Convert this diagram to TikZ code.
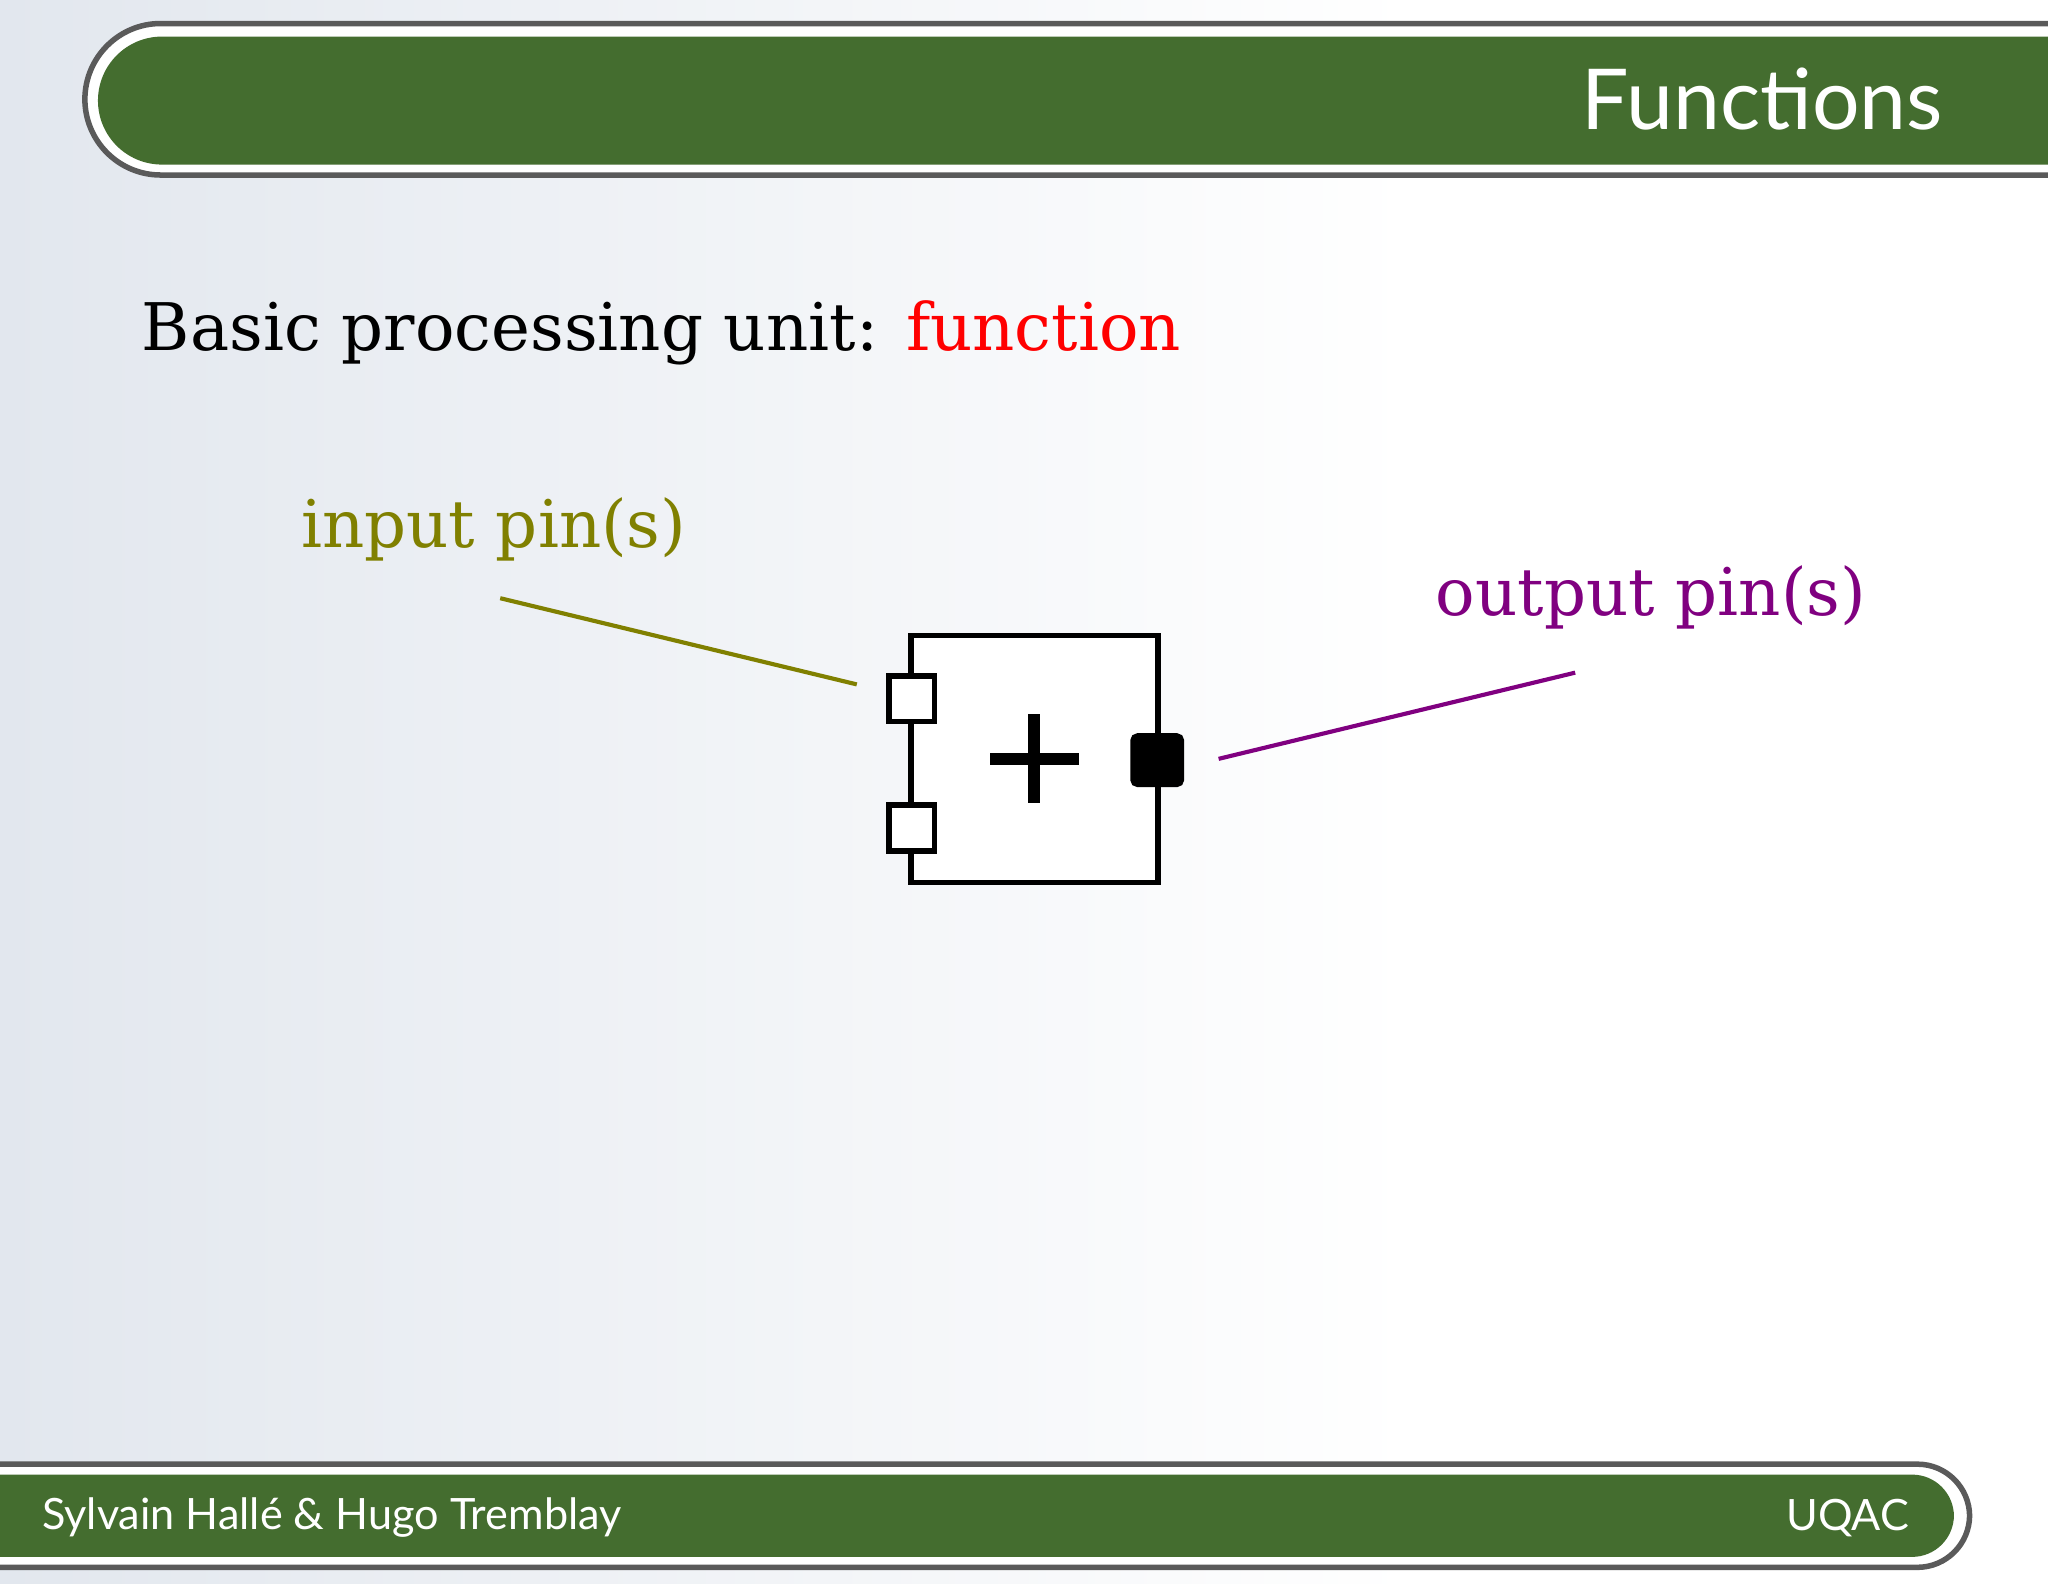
\documentclass[tikz,border=0pt]{standalone}
\usepackage{fontspec}
\setmainfont{DejaVu Serif}
\newfontfamily\barfont{Lato}
\usetikzlibrary{positioning}
\definecolor{bargreen}{RGB}{68,109,47}
\definecolor{bargray}{RGB}{90,90,90}
\definecolor{bgtint}{RGB}{226,231,238}
\definecolor{pinolive}{RGB}{128,128,0}
\definecolor{pinpurple}{RGB}{128,0,128}
\begin{document}
\begin{tikzpicture}[
    x=0.01cm, y=-0.01cm,
    pin/.style={rectangle, draw=black, line width=1.2pt, fill=white, minimum size=0.35cm, inner sep=0pt},
    label/.style={font=\fontsize{14.3}{17}\selectfont, inner sep=0pt},
    bar/.style={draw=bargray, line width=1.2pt, fill=white}
]
    % Background
    \useasboundingbox (0,0) rectangle (1568,1212);
    \shade[left color=bgtint, right color=white] (0,0) rectangle (1080,1212);
    \fill[white] (1079,0) rectangle (1568,1212);

    % Header bar
    \path[bar, rounded corners=0.58cm] (1600,18) -- (65,18) -- (65,134) -- (1600,134);
    \fill[bargreen, rounded corners=0.49cm] (1600,28) -- (75,28) -- (75,126) -- (1600,126);
    \node[anchor=east, text=white, font=\barfont\fontsize{18.3}{22}\selectfont] (title) at (1500,76) {Functions};

    % Footer bar
    \path[bar, rounded corners=0.4cm] (-20,1121) -- (1508,1121) -- (1508,1200) -- (-20,1200);
    \fill[bargreen, rounded corners=0.32cm] (-20,1129) -- (1496,1129) -- (1496,1192) -- (-20,1192);
    \node[anchor=west, text=white, font=\barfont\fontsize{9.4}{12}\selectfont] (authors) at (20,1162) {Sylvain Hallé \& Hugo Tremblay};
    \node[anchor=east, text=white, font=\barfont\fontsize{9.4}{12}\selectfont] (inst) at (1474,1162) {UQAC};

    % Heading
    \node[label, anchor=base west] (heading) at (108,268) {Basic processing unit: \textcolor{red}{function}};

    % Function box
    \node[rectangle, draw=black, line width=1.2pt, fill=white, minimum size=1.89cm, inner sep=0pt] (fn) at (792,581) {};
    \draw[line width=2.6pt] (758,581) -- (826,581) (792,547) -- (792,615);
    \node[pin] (in1) at (698,535) {};
    \node[pin] (in2) at (698,634) {};
    \node[pin, fill=black, rounded corners=1pt, minimum size=0.37cm] (out) at (886,582) {};

    % Labels
    \node[label, text=pinolive] (inlabel) at (378,405) {input pin(s)};
    \node[label, text=pinpurple] (outlabel) at (1264,457) {output pin(s)};
    \coordinate (inend) at (656,524);
    \coordinate (outend) at (933,581);
    \draw[pinolive, line width=0.9pt] (383,458) -- (inend);
    \draw[pinpurple, line width=0.9pt] (1206,515) -- (outend);
\end{tikzpicture}
\end{document}
